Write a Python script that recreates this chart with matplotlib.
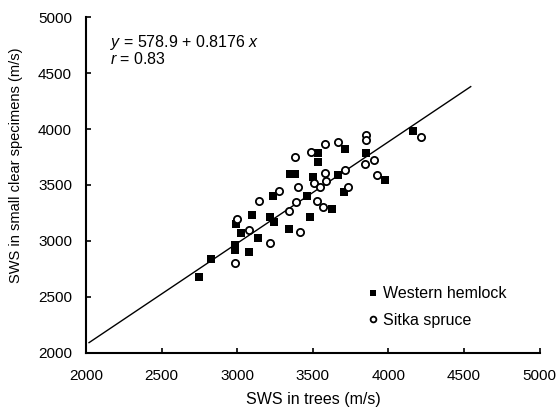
import matplotlib.pyplot as plt
import numpy as np

plt.rcParams['font.family'] = ['Liberation Sans', 'DejaVu Sans']
plt.rcParams['mathtext.fontset'] = 'custom'
plt.rcParams['mathtext.it'] = 'Liberation Sans:italic'
plt.rcParams['mathtext.rm'] = 'Liberation Sans'

# Western hemlock (filled squares)
hemlock_x = [2750, 2830, 2985, 2985, 3080, 3025, 3135, 3095, 2995, 3215,
             3245, 3240, 3340, 3485, 3350, 3380, 3460, 3535, 3535, 3500,
             3630, 3670, 3715, 3705, 3855, 3980, 4165]
hemlock_y = [2675, 2840, 2965, 2920, 2905, 3070, 3025, 3235, 3150, 3210,
             3170, 3400, 3105, 3210, 3595, 3595, 3400, 3790, 3705, 3570,
             3285, 3590, 3820, 3440, 3790, 3545, 3985]

# Sitka spruce (open circles)
spruce_x = [2985, 3000, 3080, 3215, 3345, 3415, 3145, 3390, 3275, 3380,
            3400, 3490, 3580, 3665, 3580, 3510, 3545, 3590, 3525, 3565,
            3715, 3730, 3850, 3855, 3845, 3905, 3925, 4215]
spruce_y = [2805, 3195, 3100, 2985, 3270, 3080, 3355, 3345, 3445, 3750,
            3480, 3795, 3865, 3885, 3610, 3520, 3485, 3535, 3355, 3300,
            3630, 3485, 3945, 3905, 3690, 3725, 3590, 3930]

# regression line as drawn
fit_x = [2020, 4545]
fit_y = [2090, 4380]

ticks = [2000, 2500, 3000, 3500, 4000, 4500, 5000]

fig = plt.figure(figsize=(5.6, 4.07), dpi=100)
ax = fig.add_axes([86 / 560, 1 - 352.7 / 407, 453.5 / 560, 335.4 / 407])

ax.plot(fit_x, fit_y, color='black', lw=1.0)
ax.plot(hemlock_x, hemlock_y, 's', color='black', ms=5.2, mew=0,
        label='Western hemlock')
ax.plot(spruce_x, spruce_y, 'o', mfc='white', mec='black', ms=5.2, mew=1.3,
        label='Sitka spruce')

ax.set_xlim(2000, 5000)
ax.set_ylim(2000, 5000)
ax.set_xticks(ticks)
ax.set_yticks(ticks)
ax.spines['top'].set_visible(False)
ax.spines['right'].set_visible(False)
ax.spines['left'].set_linewidth(1.5)
ax.spines['bottom'].set_linewidth(1.5)
ax.tick_params(direction='in', length=3.5, width=1.2, labelsize=11)
ax.tick_params(axis='x', pad=11.5)
ax.tick_params(axis='y', pad=10)

ax.set_xlabel('SWS in trees (m/s)', fontsize=11.5)
ax.xaxis.label.set_verticalalignment('center')
ax.xaxis.set_label_coords(0.5006, -0.14)
ax.set_ylabel('SWS in small clear specimens (m/s)', fontsize=10.5)
ax.yaxis.label.set_verticalalignment('center')
ax.yaxis.set_label_coords(-0.154, 0.56)

ax.text(2160, 4775, r'$y$ = 578.9 + 0.8176 $x$', fontsize=11.5, va='center')
ax.text(2160, 4630, r'$r$ = 0.83', fontsize=11.5, va='center')

ax.legend(loc='upper left', bbox_to_anchor=(0.623, 0.198), frameon=False,
          fontsize=11.5, handlelength=0.6, handletextpad=0.3, markerscale=0.8,
          labelspacing=0.72, borderaxespad=0, borderpad=0)

fig.savefig('out.png', dpi=100)
